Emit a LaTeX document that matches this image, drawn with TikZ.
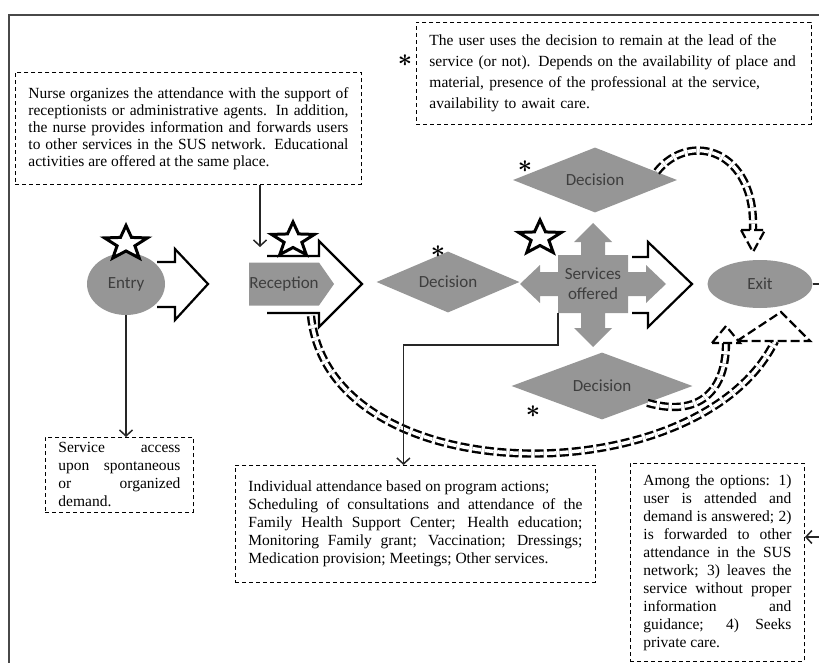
\documentclass[tikz,border=0pt]{standalone}
\usepackage{amsmath}
\usepackage{fontspec}
\setmainfont{Liberation Serif}
\newfontfamily\shapefont{Carlito}
\usepackage{tikz}
\usetikzlibrary{positioning, calc, shapes.geometric, shapes.symbols, arrows.meta}
\definecolor{shapegray}{RGB}{150,150,150}
\definecolor{shapetext}{RGB}{62,62,62}
\definecolor{framegray}{RGB}{72,72,72}
\tikzset{
	>={Straight Barb[length=6pt,width=13pt]},
	flow/.append style={
		fill=shapegray,
		text=shapetext,
		inner sep=0pt,
		font={\shapefont\fontsize{17}{20}\selectfont},
	},
	note/.style={
		draw,
		dash pattern=on 4pt off 3pt,
		line width=0.9pt,
		inner xsep=13pt,
		inner ysep=5pt,
		align=justify,
		anchor=north west,
		font={\fontsize{15.5}{#1}\selectfont\hyphenpenalty=10000\tolerance=10000\hbadness=10000},
	},
	note/.default=18pt,
	hollow/.append style={
		draw,
		line width=2.2pt,
		line join=miter,
	},
	band/.append style={
		draw,
		line width=2.4pt,
		double=white,
		double distance=3.5pt,
		dash pattern=on 9pt off 3.5pt,
	},
	bandhead/.append style={
		draw,
		fill=white,
		line width=2.2pt,
		dash pattern=on 9pt off 4pt,
	},
	starmark/.append style={
		star, star points=5, star point ratio=2.4,
		draw, line width=3pt,
		minimum size=36pt, inner sep=0pt,
		xscale=1.25, transform shape,
	},
	asterisk/.append style={
		inner sep=0pt,
		font={\fontsize{25}{25}\selectfont},
	},
	link/.append style={
		->,
		line width=1.5pt,
		draw=black!85,
	}
}

\begin{document}
\begin{tikzpicture}[x=1pt, y=-1pt]
\useasboundingbox (0,0) rectangle (819,663);
\clip (0,0) rectangle (819,663);

\draw[framegray, line width=1.5pt] (9,700) -- (9,15) -- (840,15);

\draw[hollow] (157,262) -- (175,262) -- (175,249) -- (208,284) -- (175,320) -- (175,307) -- (157,307);
\draw[hollow] (267,256) -- (319,256) -- (319,241) -- (362,284) -- (319,327) -- (319,313) -- (267,313);
\draw[hollow] (632,257) -- (648,257) -- (648,242) -- (692,284) -- (648,327) -- (648,313) -- (632,313);

\node(entry)[flow, ellipse, minimum width=78pt, minimum height=62pt] at (126,284) {Entry};
\node(reception)[flow, signal, signal to=east, signal pointer angle=110, minimum width=85pt, minimum height=43pt] at (284,284) {Reception};
\node(decmid)[flow, diamond, aspect=2.5, minimum width=143pt, minimum height=61pt] at (448,282) {Decision};

\fill[shapegray, shift={(593,284)}] (0,-61) -- (19,-42) -- (12,-42) -- (12,-29) -- (35,-29) -- (35,-12) -- (53,-12) -- (53,-19) -- (73,0) -- (53,19) -- (53,12) -- (35,12) -- (35,29) -- (12,29) -- (12,44) -- (19,44) -- (0,63) -- (-19,44) -- (-12,44) -- (-12,29) -- (-35,29) -- (-35,12) -- (-53,12) -- (-53,19) -- (-73,0) -- (-53,-19) -- (-53,-12) -- (-35,-12) -- (-35,-29) -- (-12,-29) -- (-12,-42) -- (-19,-42) -- cycle;
\node(services)[flow, minimum width=70pt, minimum height=58pt, align=center] at (593,284) {Services\\offered};

\node(dectop)[flow, diamond, aspect=2.5, minimum width=164pt, minimum height=65pt] at (595,180) {Decision};
\node(decbot)[flow, diamond, aspect=2.5, minimum width=181pt, minimum height=67pt] at (602,386) {Decision};
\node(exit)[flow, ellipse, minimum width=105pt, minimum height=48pt] at (760,284) {Exit};

\node(entrystar)[starmark, above=0pt of entry] {};
\node(recstar)[starmark] at (293,240) {};
\node(servstar)[starmark] at (540,238) {};

\node(astnotice)[asterisk] at (405,61) {$\boldsymbol{\ast}$};
\node(astmid)[asterisk] at (438,252) {$\boldsymbol{\ast}$};
\node(asttop)[asterisk] at (525,167) {$\boldsymbol{\ast}$};
\node(astbot)[asterisk] at (533,412) {$\boldsymbol{\ast}$};

\node(nurse)[note=17pt, text width=320pt, minimum height=112pt] at (15,72) {Nurse organizes the attendance with the support of\linebreak receptionists or administrative agents. In addition,\linebreak the nurse provides information and forwards users\linebreak to other services in the SUS network. Educational\linebreak activities are offered at the same place.\par\vspace{11pt}};

\node(notice)[note=21pt, align=left, text width=369pt, minimum height=102pt] at (416,22) {The user uses the decision to remain at the lead of the\\ service (or not). Depends on the availability of place and\\ material, presence of the professional at the service,\\ availability to await care.};

\node(access)[note, text width=122pt, minimum height=75pt] at (45,437) {Service access\linebreak upon spontaneous\linebreak or organized\linebreak demand.};

\node(individual)[note, text width=334pt, minimum height=117pt] at (235,465) {Individual attendance based on program actions;\\ Scheduling of consultations and attendance of the\linebreak Family Health Support Center; Health education;\linebreak Monitoring Family grant; Vaccination; Dressings;\linebreak Medication provision; Meetings; Other services.\par\vspace{15pt}};

\node(among)[note, text width=148pt, minimum height=198pt] at (630,463) {Among the options: 1)\linebreak user is attended and\linebreak demand is answered; 2)\linebreak is forwarded to other\linebreak attendance in the SUS\linebreak network; 3) leaves the\linebreak service without proper\linebreak information and\linebreak guidance; 4) Seeks\linebreak private care.};

\coordinate(recout) at (311,316);
\coordinate(bighead) at (775,341);
\draw[band] (recout) .. controls (330,495) and (700,495) .. (bighead);
\draw[bandhead] (737,341) -- (781,312) -- (810,341) -- cycle;

\coordinate(lowhead) at (726,343);
\draw[band] (decbot.south east) .. controls (700,418) and (726,390) .. (lowhead);
\draw[bandhead] (712,343) -- (726,326) -- (740,343) -- cycle;

\coordinate(tophead) at (753,230);
\draw[band] ($(dectop.north east)!0.5!(dectop.east)$) .. controls (690,130) and (756,150) .. (tophead);
\draw[bandhead] (741,230) -- (765,230) -- (753,252) -- cycle;

\coordinate(recin) at (260,247);
\draw[link] (nurse.south -| recin) -- (recin);
\draw[link] (entry.south) -- (entry.south |- access.north);
\draw[link] (services.south west) -- ++(0,32) -| ([xshift=-12pt]individual.north);
\coordinate(rightin) at (835,537);
\draw[link] (rightin) -- (rightin -| among.east);
\draw[line width=1.5pt, draw=black!85] (exit.east) -- ++(12,0);

\end{tikzpicture}
\end{document}
